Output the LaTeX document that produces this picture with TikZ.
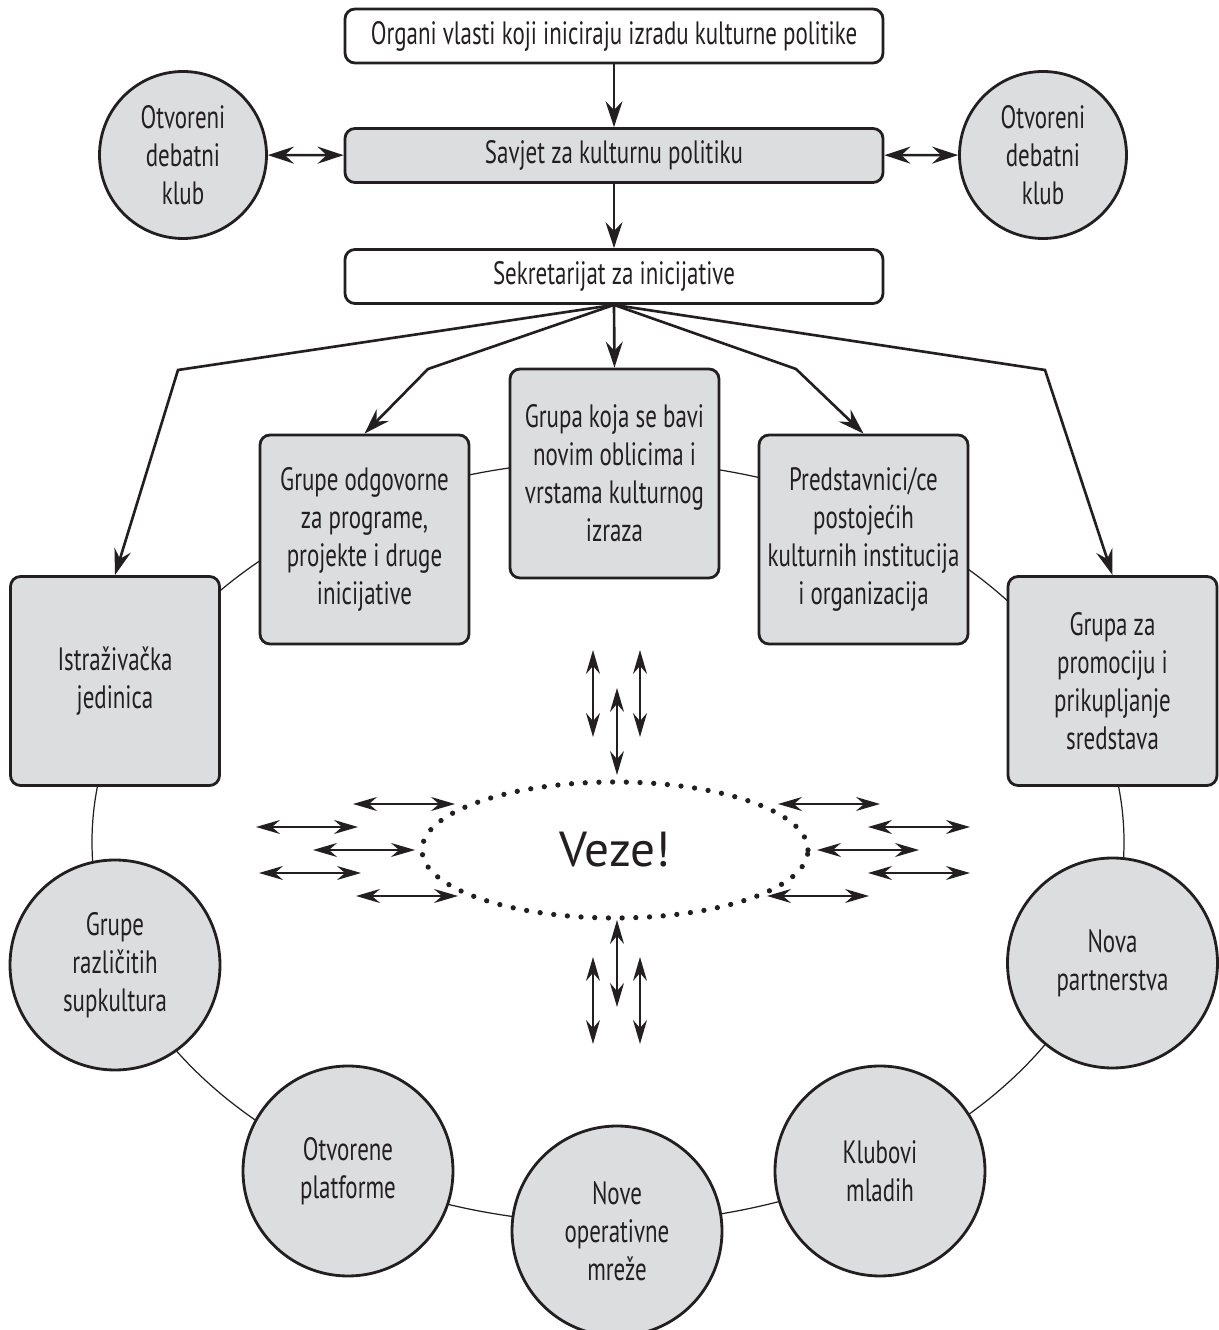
\documentclass[tikz,border=0pt]{standalone}
\usepackage{fontspec}
\setmainfont{PT Sans}[FakeStretch=0.71]
\newfontfamily\vezefont{PT Sans}
\usetikzlibrary{arrows.meta,shapes.geometric}
\definecolor{boxgray}{RGB}{220,221,223}
\definecolor{ink}{RGB}{35,31,32}

\begin{document}
\begin{tikzpicture}[
    every node/.style={font=\fontsize{9.2}{10.8}\selectfont, align=center, text=ink},
    topbox/.style={draw=ink, line width=0.8pt, rounded corners=1mm, minimum width=5.38cm, minimum height=0.54cm, inner sep=0pt},
    groupbox/.style={draw=ink, line width=0.8pt, rounded corners=1mm, fill=boxgray, minimum width=2.09cm, minimum height=2.09cm, inner sep=0pt},
    roundnode/.style={draw=ink, line width=0.8pt, circle, fill=boxgray, minimum size=2.1cm, inner sep=0pt},
    flow/.style={draw=ink, line width=0.75pt, -{Stealth[length=2.6mm,width=1.7mm,inset=0.9mm]}},
    twoway/.style={draw=ink, line width=0.75pt, {Stealth[length=2.6mm,width=1.7mm,inset=0.9mm]}-{Stealth[length=2.6mm,width=1.7mm,inset=0.9mm]}},
    smallarrow/.style={draw=ink, line width=0.4pt, {Stealth[length=2.4mm,width=1.4mm,inset=0.8mm]}-{Stealth[length=2.4mm,width=1.4mm,inset=0.8mm]}},
    ring/.style={draw=ink, line width=0.35pt}
]
    \useasboundingbox (0,0) rectangle (12.19,13.30);

    % ring behind the groups
    \draw[ring] (6.08,4.88) ellipse [x radius=5.16, y radius=3.81];

    % top of the chain
    \node[topbox] (organi) at (6.14,12.94) {Organi vlasti koji iniciraju izradu kulturne politike};
    \node[topbox, fill=boxgray] (savjet) at (6.14,11.745) {Savjet za kulturnu politiku};
    \node[topbox] (sekr) at (6.14,10.535) {Sekretarijat za inicijative};
    \node[roundnode, minimum size=1.67cm] (klubL) at (1.83,11.75) {Otvoreni\\debatni\\klub};
    \node[roundnode, minimum size=1.67cm] (klubR) at (10.43,11.75) {Otvoreni\\debatni\\klub};

    % groups
    \node[groupbox] (novi) at (6.145,8.565) {Grupa koja se bavi\\novim oblicima i\\vrstama kulturnog\\izraza};
    \node[groupbox] (programi) at (3.645,7.905) {Grupe odgovorne\\za programe,\\projekte i druge\\inicijative};
    \node[groupbox] (predst) at (8.635,7.905) {Predstavnici/ce\\postojećih\\kulturnih institucija\\i organizacija};
    \node[groupbox] (istr) at (1.15,6.49) {Istraživačka\\jedinica};
    \node[groupbox] (promo) at (11.125,6.49) {Grupa za\\promociju i\\prikupljanje\\sredstava};

    \node[roundnode] (supk) at (1.15,3.65) {Grupe\\različitih\\supkultura};
    \node[roundnode] (partner) at (11.125,3.67) {Nova\\partnerstva};
    \node[roundnode] (platf) at (3.48,1.59) {Otvorene\\platforme};
    \node[roundnode] (klubovi) at (8.80,1.59) {Klubovi\\mladih};
    \node[roundnode] (mreze) at (6.17,0.99) {Nove\\operativne\\mreže};

    \node[ellipse, draw=ink, line width=1.5pt, dash pattern=on 0pt off 3.9pt, line cap=round,
          minimum width=3.86cm, minimum height=1.36cm, inner sep=0pt,
          font=\vezefont\fontsize{14}{16}\selectfont] (veze) at (6.15,4.80) {Veze!};

    \coordinate (bendL) at (1.78,9.60);
    \coordinate (bendPL) at (4.28,9.61);
    \coordinate (bendPR) at (7.96,9.61);
    \coordinate (bendR) at (10.45,9.60);

    \draw[flow] (organi) -- (savjet);
    \draw[flow] (savjet) -- (sekr);
    \draw[twoway] (klubL) -- (savjet);
    \draw[twoway] (savjet) -- (klubR);

    \draw[flow] (sekr.south) -- (novi.north);
    \draw[flow] (sekr.south) -- (bendPL) -- (programi.north);
    \draw[flow] (sekr.south) -- (bendPR) -- (predst.north);
    \draw[flow] (sekr.south) -- (bendL) -- (istr.north);
    \draw[flow] (sekr.south) -- (bendR) -- (promo.north);

    % links around Veze!
    \foreach \dx/\dy in {-2.62/0.46,-3.59/0.23,-3.02/0,-3.56/-0.23,-2.59/-0.46,
                         1.63/0.46,2.53/0.23,2.02/0,2.53/-0.23,1.52/-0.46}
        \draw[smallarrow] ([shift={(\dx,\dy)}]veze.center) -- ++(1.02,0);
    \foreach \dx/\dy in {-0.22/2.00,0.02/1.62,0.25/2.00,0.02/-0.70,-0.22/-1.07,0.25/-1.07}
        \draw[smallarrow] ([shift={(\dx,\dy)}]veze.center) -- ++(0,-0.87);
\end{tikzpicture}
\end{document}
